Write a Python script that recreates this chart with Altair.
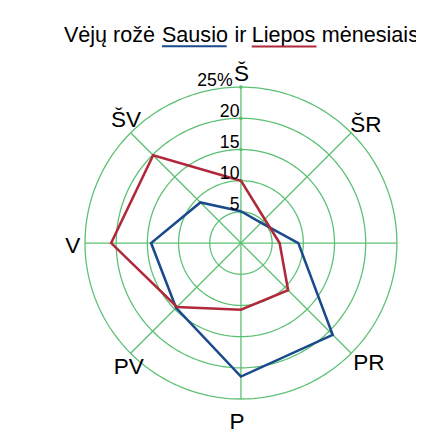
import altair as alt
import numpy as np
import pandas as pd

# ---- data ----
directions = ["Š", "ŠR", "R", "PR", "P", "PV", "V", "ŠV"]
sausio = [5.1, 4.6, 9.2, 20.8, 21.4, 14.7, 14.4, 9.2]
liepos = [10.0, 5.4, 6.2, 10.7, 10.7, 14.5, 20.8, 19.9]
rings = [5, 10, 15, 20, 25]
ring_labels = ["5", "10", "15", "20", "25%"]
series_names = ["Sausio", "Liepos"]
series_colors = ["#1b4a8c", "#b0283a"]
title_words = ["Vėjų rožė", "Sausio", "ir", "Liepos", "mėnesiais"]

# ---- layout ----
W, H = 416, 425
CX, CY = 237.5, 235.5          # centre of the rose in chart pixels
RMAX = 25
K = 159 / RMAX                 # pixels per percent
xdom = [-CX / K, (W - CX) / K]
ydom = [-(H - CY) / K, CY / K]
xs = alt.Scale(domain=xdom, nice=False, zero=False)
ys = alt.Scale(domain=ydom, nice=False, zero=False)
FONT = "Liberation Sans, Arial, sans-serif"
GRID = "#5cc073"

angles = np.deg2rad(np.arange(len(directions)) * 45.0)


def px(r, a):
    return r * np.sin(a)


def py(r, a):
    return r * np.cos(a)


# rings
ring_rows = []
t = np.linspace(0, 2 * np.pi, 241)
for r in rings:
    for i, a in enumerate(t):
        ring_rows.append({"ring": r, "i": i, "x": px(r, a), "y": py(r, a)})
ring_df = pd.DataFrame(ring_rows)

# spokes
spoke_df = pd.DataFrame({
    "dir": directions,
    "x": 0.0, "y": 0.0,
    "x2": [px(RMAX, a) for a in angles],
    "y2": [py(RMAX, a) for a in angles],
})

# ring tick dots on the north spoke + labels
tick_df = pd.DataFrame({"r": rings, "label": ring_labels,
                        "x": [0.0] * len(rings), "y": rings})

# series polygons (closed)
ser_rows = []
for name, vals in zip(series_names, [sausio, liepos]):
    for i in range(len(directions) + 1):
        j = i % len(directions)
        ser_rows.append({"series": name, "i": i, "dir": directions[j],
                         "value": vals[j],
                         "x": px(vals[j], angles[j]), "y": py(vals[j], angles[j])})
ser_df = pd.DataFrame(ser_rows)

# direction label anchors at the outer ring
lab_df = pd.DataFrame({"dir": directions,
                       "x": [px(RMAX, a) for a in angles],
                       "y": [py(RMAX, a) for a in angles]})

X = lambda f="x": alt.X(f"{f}:Q", scale=xs, axis=None)
Y = lambda f="y": alt.Y(f"{f}:Q", scale=ys, axis=None)

ring_layer = alt.Chart(ring_df).mark_line(color=GRID, strokeWidth=1.3).encode(
    x=X(), y=Y(), detail="ring:N", order="i:Q")

spoke_layer = alt.Chart(spoke_df).mark_rule(color=GRID, strokeWidth=1.3).encode(
    x=X(), y=Y(), x2="x2:Q", y2="y2:Q")

tick_layer = alt.Chart(tick_df).mark_point(
    filled=True, color=GRID, size=14, opacity=1).encode(x=X(), y=Y())

ring_text = alt.Chart(tick_df).transform_filter(alt.datum.r < 25).mark_text(
    align="right", baseline="alphabetic", dx=-1.5, dy=-1.5,
    font=FONT, fontSize=18, color="#000000").encode(x=X(), y=Y(), text="label:N")
ring_text_top = alt.Chart(tick_df).transform_filter(alt.datum.r == 25).mark_text(
    align="right", baseline="alphabetic", dx=-8.5, dy=-1.2,
    font=FONT, fontSize=18, color="#000000").encode(x=X(), y=Y(), text="label:N")

series_layer = alt.Chart(ser_df).mark_line(strokeWidth=2.6, strokeJoin="miter").encode(
    x=X(), y=Y(), order="i:Q",
    color=alt.Color("series:N", scale=alt.Scale(domain=series_names, range=series_colors),
                    legend=None),
    detail="series:N")

# per-label alignment (align, dx, dy)
label_style = {
    "Š": ("center", 0.5, -6.5),
    "ŠR": ("left", -1, -1),
    "R": ("left", 20, 10),
    "PR": ("left", 2, 17.3),
    "P": ("center", -4, 30.5),
    "PV": ("center", -2, 20.7),
    "V": ("right", -4.8, 9.8),
    "ŠV": ("center", -4.7, -6),
}
label_layers = []
for d in directions:
    al, dx, dy = label_style[d]
    label_layers.append(
        alt.Chart(lab_df).transform_filter(alt.datum.dir == d).mark_text(
            align=al, baseline="alphabetic", dx=dx, dy=dy,
            font=FONT, fontSize=23, color="#000000").encode(x=X(), y=Y(), text="dir:N"))

# title built from words so each underline sits under its word
title_df = pd.DataFrame({"word": title_words})
title_pos = [57, 157, 231, 248.5, 320]
title_layers = []
for w, xp in zip(title_words, title_pos):
    title_layers.append(
        alt.Chart(title_df).transform_filter(alt.datum.word == w).mark_text(
            align="left", baseline="alphabetic", font=FONT, fontSize=22,
            color="#000000").encode(x=alt.value(xp), y=alt.value(30.3), text="word:N"))

under_df = pd.DataFrame({"series": series_names})
under_layers = [
    alt.Chart(under_df).transform_filter(alt.datum.series == "Sausio").mark_rule(
        color=series_colors[0], strokeWidth=2).encode(
        x=alt.value(157), x2=alt.value(223), y=alt.value(34.8)),
    alt.Chart(under_df).transform_filter(alt.datum.series == "Liepos").mark_rule(
        color=series_colors[1], strokeWidth=2).encode(
        x=alt.value(248.5), x2=alt.value(314.5), y=alt.value(35)),
]

chart = alt.layer(
    ring_layer, spoke_layer, tick_layer, series_layer, ring_text, ring_text_top,
    *label_layers, *title_layers, *under_layers
).properties(
    width=W, height=H, padding=0, autosize=alt.AutoSizeParams(type="none"),
    background="#ffffff"
).configure_view(stroke=None)

chart.save("out.html", embed_options={"renderer": "svg", "actions": False})
